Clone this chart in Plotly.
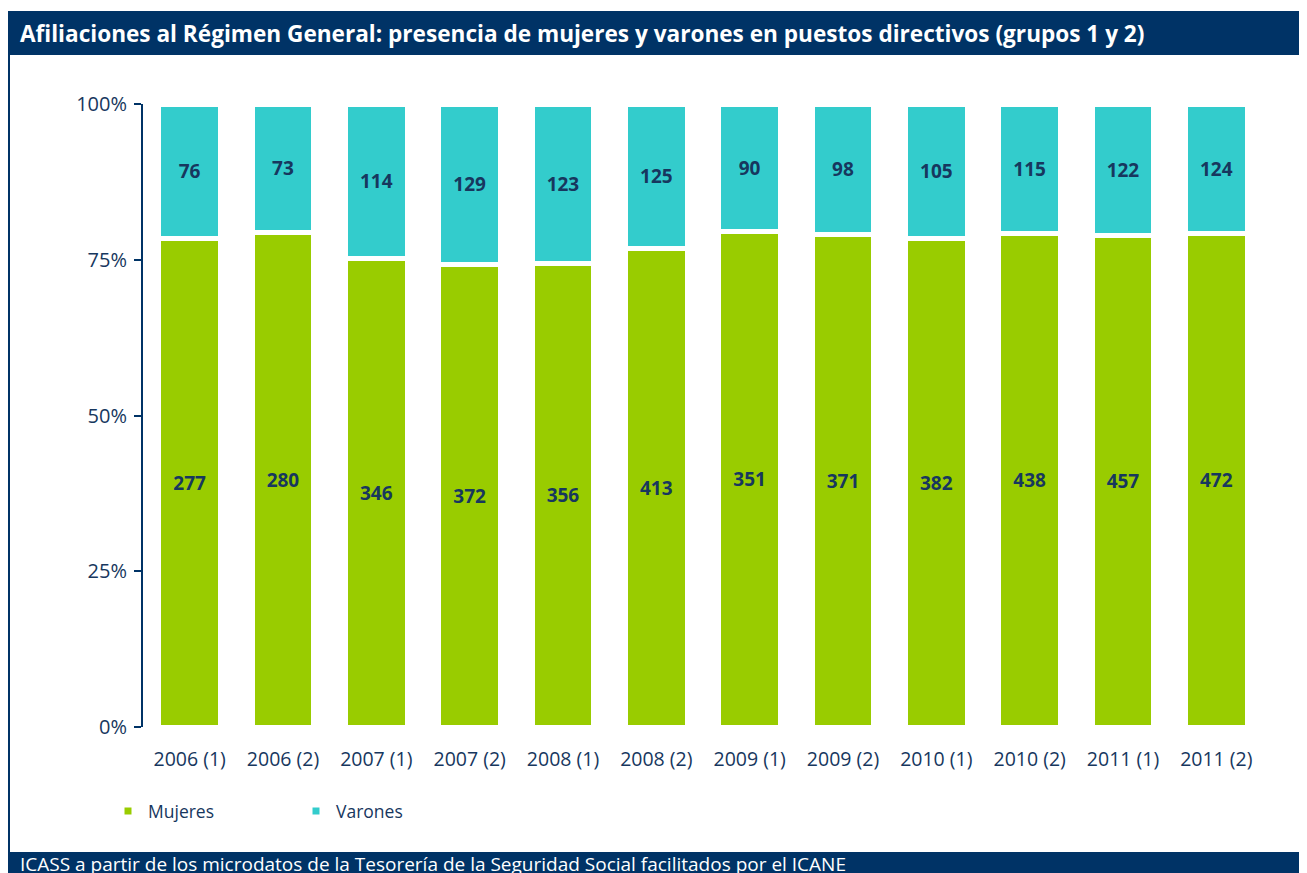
import plotly.graph_objects as go

categories = ["2006 (1)", "2006 (2)", "2007 (1)", "2007 (2)", "2008 (1)", "2008 (2)",
              "2009 (1)", "2009 (2)", "2010 (1)", "2010 (2)", "2011 (1)", "2011 (2)"]
mujeres = [277, 280, 346, 372, 356, 413, 351, 371, 382, 438, 457, 472]
varones = [76, 73, 114, 129, 123, 125, 90, 98, 105, 115, 122, 124]
y_ticks = [0, 25, 50, 75, 100]

NAVY = "#003366"
TXT = "#17375E"
GREEN = "#99CC00"
TEAL = "#33CCCC"

# page body has an 8px margin; figure occupies the rest of the 1307x873 window
OFF = 8
W, H = 1307 - OFF, 873 - OFF
PLOT_L, PLOT_R, PLOT_T, PLOT_B = 143, 1263, 104, 727  # in window pixels
L, R, T, B = PLOT_L - OFF, W - (PLOT_R - OFF), PLOT_T - OFF, H - (PLOT_B - OFF)
PW, PH = PLOT_R - PLOT_L, PLOT_B - PLOT_T


def px(x):
    return (x - PLOT_L) / PW


def py(y):
    return (PLOT_B - y) / PH


label_font = dict(family="Open Sans", size=19, color=TXT, weight="bold")

fig = go.Figure()
fig.add_trace(go.Bar(
    x=categories, y=mujeres, name="Mujeres", marker=dict(color=GREEN, line=dict(color="white", width=5)),
    text=mujeres, textposition="inside", insidetextanchor="middle", textfont=label_font,
    hoverinfo="skip",
))
fig.add_trace(go.Bar(
    x=categories, y=varones, name="Varones", marker=dict(color=TEAL, line=dict(color="white", width=5)),
    text=varones, textposition="inside", insidetextanchor="middle", textfont=label_font,
    hoverinfo="skip",
))

shapes = [
    dict(type="rect", xref="paper", yref="paper", x0=px(7), x1=px(1305), y0=py(55), y1=py(11),
         fillcolor=NAVY, line=dict(width=0), layer="below"),
    dict(type="rect", xref="paper", yref="paper", x0=px(7), x1=px(1310), y0=py(900), y1=py(852),
         fillcolor=NAVY, line=dict(width=0), layer="below"),
    dict(type="line", xref="paper", yref="paper", x0=px(9), x1=px(9), y0=py(55), y1=py(852),
         line=dict(color=NAVY, width=2)),
    dict(type="line", xref="paper", yref="paper", x0=px(1305), x1=px(1305), y0=py(11), y1=py(873),
         line=dict(color="#D9D9D9", width=1)),
]

annotations = [
    dict(text="<b>Afiliaciones al Régimen General: presencia de mujeres y varones en puestos directivos (grupos 1 y 2)</b>",
         xref="paper", yref="paper", x=px(18), y=py(34), xanchor="left", yanchor="middle",
         showarrow=False, font=dict(family="Open Sans", size=22.6, color="white")),
    dict(text="ICASS a partir de los microdatos de la Tesorería de la Seguridad Social facilitados por el ICANE",
         xref="paper", yref="paper", x=px(18), y=py(864), xanchor="left", yanchor="middle",
         showarrow=False, font=dict(family="Open Sans", size=19, color="white")),
]

fig.update_layout(
    width=W, height=H,
    margin=dict(l=L, r=R, t=T, b=B, autoexpand=False),
    paper_bgcolor="white", plot_bgcolor="white",
    barmode="stack", barnorm="percent", bargap=0.34,
    font=dict(family="Open Sans", size=17, color=TXT),
    showlegend=True,
    legend=dict(orientation="h", x=px(108), y=py(811), xanchor="left", yanchor="middle",
                entrywidth=143, font=dict(size=17.5, color=TXT), traceorder="normal"),
    shapes=shapes, annotations=annotations,
)
fig.update_xaxes(showgrid=False, showline=False, ticks="", ticklabelstandoff=18,
                 tickfont=dict(size=19.5, color=TXT))
fig.update_yaxes(range=[0, 100], tickvals=y_ticks, ticktext=[f"{v}%" for v in y_ticks],
                 showgrid=False, showline=True, linecolor=NAVY, linewidth=2,
                 ticks="outside", ticklen=7, tickcolor=NAVY, tickwidth=2, ticklabelstandoff=3,
                 tickfont=dict(size=20, color=TXT), zeroline=False)

fig.write_html("out.html")
